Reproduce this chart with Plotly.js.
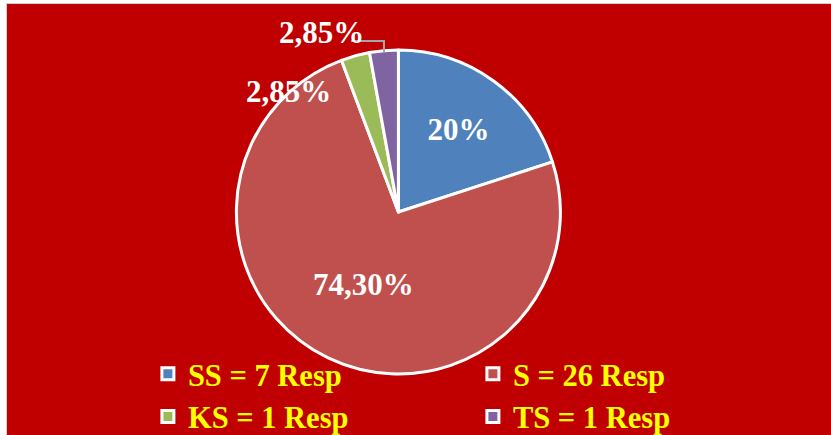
<!DOCTYPE html>
<html>
<head>
<meta charset="utf-8">
<script src="https://cdn.plot.ly/plotly-3.0.1.min.js"></script>
<style>
html,body{margin:0;padding:0;background:#ffffff;width:831px;height:435px;overflow:hidden;}
#chart{position:absolute;left:6px;top:3px;width:825px;height:432px;border-left:1px solid #d0d0d0;border-top:1px solid #d0d0d0;box-sizing:border-box;}
</style>
</head>
<body>
<div id="chart"></div>
<script>
var categories = ["SS = 7 Resp", "S = 26 Resp", "KS = 1 Resp", "TS = 1 Resp"];
var responses = [7, 26, 1, 1];
var percentLabels = ["20%", "74,30%", "2,85%", "2,85%"];
var sliceColors = ["#4F81BD", "#C0504D", "#9BBB59", "#8064A2"];

var serif = "Liberation Serif, Times New Roman, serif";

var trace = {
  type: "pie",
  labels: categories,
  values: responses,
  text: percentLabels,
  textinfo: "text",
  hoverinfo: "label+text",
  sort: false,
  direction: "clockwise",
  rotation: 0,
  marker: {colors: sliceColors, line: {color: "#ffffff", width: 3}},
  textposition: ["inside", "inside", "none", "none"],
  insidetextorientation: "horizontal",
  textfont: {family: serif, size: 31, color: "#ffffff", weight: "bold"},
  domain: {x: [0.2, 0.75], y: [0.1415, 0.8933]}
};

// outside labels of the two small slices, placed as in the reference
var labelFont = {family: serif, size: 31, color: "#ffffff", weight: "bold"};
var annotations = [
  {xref: "paper", yref: "paper", x: 0.342, y: 0.798, xanchor: "center", yanchor: "middle",
   text: percentLabels[2], showarrow: false, font: labelFont},
  {xref: "paper", yref: "paper", x: 0.382, y: 0.935, xanchor: "center", yanchor: "middle",
   text: percentLabels[3], showarrow: false, font: labelFont}
];

var shapes = [
  {type: "path", xref: "paper", yref: "paper",
   path: "M 0.4175 0.9141 L 0.4575 0.9141 L 0.4575 0.8887",
   line: {color: "#A6A6A6", width: 2}}
];

var layout = {
  width: 824,
  height: 431,
  paper_bgcolor: "#C00000",
  plot_bgcolor: "#C00000",
  margin: {l: 0, r: 0, t: 0, b: 0, autoexpand: false},
  showlegend: true,
  annotations: annotations,
  shapes: shapes,
  legend: {
    orientation: "h",
    x: 0.171,
    xanchor: "left",
    y: 0.203,
    yanchor: "top",
    entrywidth: 280,
    entrywidthmode: "pixels",
    bgcolor: "rgba(0,0,0,0)",
    font: {family: serif, size: 30.5, color: "#FFFF00", weight: "bold"},
    traceorder: "normal"
  }
};

Plotly.newPlot("chart", [trace], layout, {displayModeBar: false, staticPlot: true});
</script>
</body>
</html>
